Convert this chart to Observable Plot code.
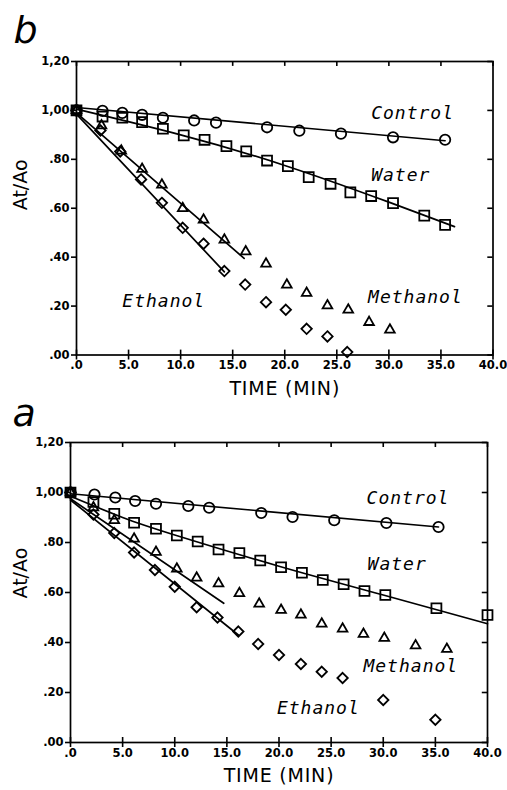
<!DOCTYPE html>
<html><head><meta charset="utf-8">
<script src="https://cdn.jsdelivr.net/npm/d3@7"></script>
<script src="https://cdn.jsdelivr.net/npm/@observablehq/plot@0.6"></script>
<style>
html,body{margin:0;padding:0;background:#fff;overflow:hidden}
#root{position:relative;width:507px;height:790px}
#root svg{position:absolute;left:0}
</style></head><body><div id="root"></div>
<script>
// ---- axes ----
const xTicks = [0, 5, 10, 15, 20, 25, 30, 35, 40];
const xTickLabels = [".0", "5.0", "10.0", "15.0", "20.0", "25.0", "30.0", "35.0", "40.0"];
const yTicks = [0, 0.2, 0.4, 0.6, 0.8, 1.0, 1.2];
const yTickLabels = [".00", ".20", ".40", ".60", ".80", "1,00", "1,20"];
const xTitle = "TIME (MIN)";
const yTitle = "At/Ao";
const seriesNames = ["Control", "Water", "Methanol", "Ethanol"];

// ---- panel b ----
const bControlT = [0, 2.5, 4.4, 6.3, 8.3, 11.3, 13.4, 18.3, 21.4, 25.4, 30.4, 35.4];
const bControlV = [1.0, 0.998, 0.99, 0.982, 0.97, 0.959, 0.95, 0.931, 0.917, 0.905, 0.89, 0.88];
const bWaterT = [0, 2.5, 4.4, 6.3, 8.3, 10.3, 12.3, 14.4, 16.3, 18.3, 20.3, 22.3, 24.4, 26.3, 28.3, 30.4, 33.4, 35.4];
const bWaterV = [1.0, 0.975, 0.97, 0.952, 0.925, 0.898, 0.88, 0.854, 0.833, 0.795, 0.772, 0.727, 0.70, 0.665, 0.65, 0.621, 0.57, 0.532];
const bMethanolT = [0, 2.4, 4.3, 6.3, 8.2, 10.2, 12.2, 14.2, 16.25, 18.2, 20.2, 22.1, 24.1, 26.1, 28.1, 30.1];
const bMethanolV = [1.0, 0.938, 0.835, 0.76, 0.696, 0.60, 0.553, 0.471, 0.423, 0.373, 0.287, 0.253, 0.202, 0.185, 0.134, 0.103];
const bEthanolT = [0, 2.3, 4.2, 6.2, 8.2, 10.2, 12.2, 14.2, 16.2, 18.2, 20.1, 22.1, 24.1, 26.0];
const bEthanolV = [1.0, 0.918, 0.832, 0.718, 0.622, 0.52, 0.455, 0.343, 0.288, 0.216, 0.185, 0.107, 0.076, 0.012];
// fitted lines (panel b)
const bControlFitT = [0, 35.4];
const bControlFitV = [1.012, 0.876];
const bWaterFitT = [0, 10, 20, 30, 36.3];
const bWaterFitV = [1.005, 0.9, 0.775, 0.625, 0.525];
const bMethanolFitT = [0, 16.1];
const bMethanolFitV = [0.99, 0.395];
const bEthanolFitT = [0, 14.2];
const bEthanolFitV = [0.985, 0.34];
// label anchors (panel b)
const bLabelT = [28.3, 28.3, 28.0, 4.4];
const bLabelV = [0.988, 0.735, 0.236, 0.219];

// ---- panel a ----
const aControlT = [0, 2.3, 4.3, 6.2, 8.2, 11.3, 13.3, 18.3, 21.3, 25.3, 30.3, 35.3];
const aControlV = [1.0, 0.992, 0.98, 0.966, 0.955, 0.946, 0.939, 0.918, 0.902, 0.889, 0.878, 0.862];
const aWaterT = [0, 2.2, 4.2, 6.1, 8.2, 10.2, 12.2, 14.2, 16.2, 18.2, 20.2, 22.2, 24.2, 26.2, 28.2, 30.2, 35.1, 40.0];
const aWaterV = [1.0, 0.962, 0.915, 0.879, 0.855, 0.828, 0.804, 0.772, 0.758, 0.728, 0.701, 0.679, 0.65, 0.633, 0.606, 0.59, 0.537, 0.51];
const aMethanolT = [0, 2.2, 4.2, 6.1, 8.2, 10.2, 12.1, 14.2, 16.2, 18.1, 20.2, 22.1, 24.1, 26.1, 28.1, 30.1, 33.1, 36.1];
const aMethanolV = [1.0, 0.94, 0.889, 0.815, 0.762, 0.695, 0.659, 0.636, 0.597, 0.555, 0.53, 0.511, 0.475, 0.455, 0.434, 0.418, 0.388, 0.374];
const aEthanolT = [0, 2.2, 4.2, 6.1, 8.1, 10.0, 12.1, 14.1, 16.1, 18.0, 20.0, 22.1, 24.1, 26.1, 30.0, 35.0];
const aEthanolV = [1.0, 0.912, 0.838, 0.76, 0.69, 0.623, 0.541, 0.50, 0.444, 0.394, 0.35, 0.314, 0.283, 0.258, 0.17, 0.091];
// fitted lines (panel a)
const aControlFitT = [0, 35.3];
const aControlFitV = [0.995, 0.862];
const aWaterFitT = [0, 5, 10, 20, 30, 40];
const aWaterFitV = [0.985, 0.9, 0.83, 0.705, 0.59, 0.475];
const aMethanolFitT = [0, 14.7];
const aMethanolFitV = [0.975, 0.557];
const aEthanolFitT = [0, 16.1];
const aEthanolFitV = [0.97, 0.43];
// label anchors (panel a)
const aLabelT = [28.4, 28.5, 28.1, 19.8];
const aLabelV = [0.976, 0.715, 0.307, 0.136];

const symbols = {Control: "circle", Water: "square", Methanol: "triangle2", Ethanol: "diamond2"};
const radii = {Control: 5.2, Water: 5.6, Methanol: 4.6, Ethanol: 4.7};

function rows(ts, vs) {
  const out = [];
  seriesNames.forEach((name, k) => ts[k].forEach((t, i) => out.push({series: name, t, v: vs[k][i]})));
  return out;
}

function panel(p) {
  const pts = rows(p.t, p.v);
  const fit = rows(p.fitT, p.fitV);
  const labels = seriesNames.map((name, k) => ({name, t: p.labelT[k], v: p.labelV[k]}));
  const svg = Plot.plot({
    width: 507, height: p.height,
    marginLeft: p.ml, marginRight: p.mr, marginTop: p.mt, marginBottom: p.mb,
    style: {background: "transparent", overflow: "visible", fontFamily: "DejaVu Sans", fontSize: "11.5px", fontWeight: "bold", color: "#000"},
    x: {domain: [0, 40]},
    y: {domain: [0, 1.2]},
    marks: [
      Plot.frame({stroke: "#000", strokeWidth: 1.7}),
      Plot.axisX({ticks: xTicks, tickFormat: d => xTickLabels[xTicks.indexOf(d)], tickSize: 5, tickPadding: 1, label: null, strokeWidth: 1.6}),
      Plot.axisY({ticks: yTicks, tickFormat: d => yTickLabels[yTicks.indexOf(d)], tickSize: 5, tickPadding: 2, label: null, strokeWidth: 1.6}),
      Plot.ruleX(xTicks, {x: d => d, y1: 1.2, y2: 1.18, stroke: "#000", strokeWidth: 1.6}),
      Plot.ruleX(xTicks, {x: d => d, y1: 0, y2: 0.02, stroke: "#000", strokeWidth: 1.6}),
      Plot.ruleY(yTicks, {y: d => d, x1: 40, x2: 39.5, stroke: "#000", strokeWidth: 1.6}),
      Plot.line(fit, {x: "t", y: "v", z: "series", curve: "natural", stroke: "#000", strokeWidth: 1.7}),
      ...seriesNames.map(name => Plot.dot(pts.filter(d => d.series === name), {
        x: "t", y: "v", symbol: symbols[name], r: radii[name], stroke: "#000", strokeWidth: 1.8, fill: "none"
      })),
      Plot.text(labels, {x: "t", y: "v", text: "name", textAnchor: "start", fontFamily: "DejaVu Sans Mono", fontStyle: "italic", fontWeight: "normal", fontSize: 18, fill: "#000"}),
      Plot.text([p.letter], {frameAnchor: "top-left", dx: p.letterDx, dy: p.letterDy, textAnchor: "start", lineAnchor: "bottom", fontFamily: "DejaVu Sans", fontStyle: "italic", fontWeight: "normal", fontSize: 38, fill: "#000"}),
      Plot.text([xTitle], {frameAnchor: "bottom", dy: p.titleDy, fontWeight: "normal", fontSize: 19, fill: "#000"}),
      Plot.text([yTitle], {frameAnchor: "left", dx: p.yDx, dy: p.yDy, rotate: -90, fontWeight: "normal", fontSize: 19, fill: "#000"})
    ]
  });
  svg.style.top = p.top + "px";
  svg.querySelectorAll("text").forEach(el => {
    const s = el.textContent;
    if (seriesNames.includes(s)) el.style.letterSpacing = "1px";
    if (s === xTitle) el.style.letterSpacing = "0.8px";
  });
  return svg;
}

const root = document.getElementById("root");
root.appendChild(panel({
  top: 0, height: 410, ml: 76, mr: 14.5, mt: 61, mb: 55.5,
  t: [bControlT, bWaterT, bMethanolT, bEthanolT], v: [bControlV, bWaterV, bMethanolV, bEthanolV],
  fitT: [bControlFitT, bWaterFitT, bMethanolFitT, bEthanolFitT], fitV: [bControlFitV, bWaterFitV, bMethanolFitV, bEthanolFitV],
  labelT: bLabelT, labelV: bLabelV,
  letter: "b", letterDx: -63, letterDy: -19, titleDy: 40, yDx: -55.5, yDy: 2
}));
root.appendChild(panel({
  top: 400, height: 390, ml: 70, mr: 20, mt: 42, mb: 48,
  t: [aControlT, aWaterT, aMethanolT, aEthanolT], v: [aControlV, aWaterV, aMethanolV, aEthanolV],
  fitT: [aControlFitT, aWaterFitT, aMethanolFitT, aEthanolFitT], fitV: [aControlFitV, aWaterFitV, aMethanolFitV, aEthanolFitV],
  labelT: aLabelT, labelV: aLabelV,
  letter: "a", letterDx: -58, letterDy: -17, titleDy: 39, yDx: -49.5, yDy: 6
}));
</script>
</body></html>
